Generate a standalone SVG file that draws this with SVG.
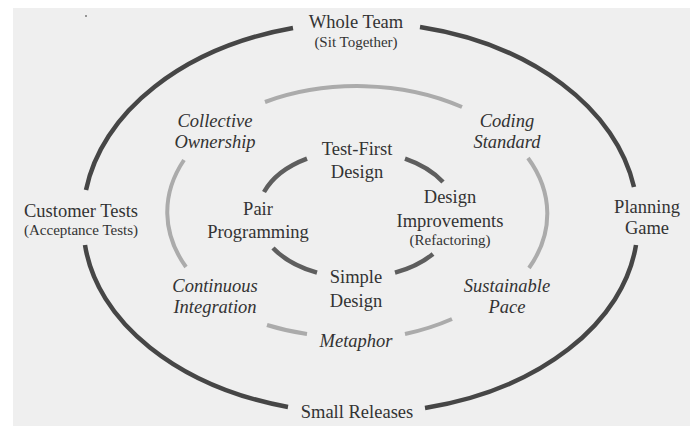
<svg xmlns="http://www.w3.org/2000/svg" width="690" height="426" viewBox="0 0 690 426">
  <style>
    .t { font-family: "Liberation Serif", "Times New Roman", serif; font-size: 18.5px; fill: #333; text-anchor: middle; }
    .it { font-style: italic; }
    .sm { font-size: 15px; }
    .ring { fill: none; stroke-linecap: butt; }
    .outer { stroke: #464646; stroke-width: 4.5; }
    .middle { stroke: #ababab; stroke-width: 4; }
    .inner { stroke: #5e5e5e; stroke-width: 4.5; }
  </style>

  <!-- paper -->
  <rect x="0" y="0" width="690" height="426" fill="#ffffff"/>
  <rect x="13" y="8" width="677" height="418" fill="#efefef"/>
  <circle cx="86" cy="16" r="1" fill="#777"/>

  <!-- ring segments between practices -->
  <g id="connectors" class="ring">
    <!-- outer ring -->
    <path class="outer" d="M86,190 A277,196 0 0 1 293,28"/>
    <path class="outer" d="M420,27 A277,196 0 0 1 634,187"/>
    <path class="outer" d="M636,245 A277,189 0 0 1 425,408"/>
    <path class="outer" d="M288,407 A277,189 0 0 1 85,245"/>
    <!-- middle ring -->
    <path class="middle" d="M265,102 A190.5,127 0 0 1 462,107"/>
    <path class="middle" d="M528,158 A190.5,127 0 0 1 529,268"/>
    <path class="middle" d="M452,319 A190.5,127 0 0 1 405,334"/>
    <path class="middle" d="M307,334 A190.5,127 0 0 1 267,325"/>
    <path class="middle" d="M186,267 A190.5,127 0 0 1 184,160"/>
    <!-- inner ring -->
    <path class="inner" d="M264,192 A98,64 0 0 1 307,158.6"/>
    <path class="inner" d="M405,158.6 A98,64 0 0 1 443,182"/>
    <path class="inner" d="M433,254 A98,64 0 0 1 395,272.7"/>
    <path class="inner" d="M317,272.7 A98,64 0 0 1 273,248"/>
  </g>

  <!-- outer ring practices -->
  <g id="whole-team">
    <text class="t" x="356" y="28">Whole Team</text>
    <text class="t sm" x="356" y="47">(Sit Together)</text>
  </g>
  <g id="customer-tests">
    <text class="t" x="81" y="217">Customer Tests</text>
    <text class="t sm" x="81" y="235">(Acceptance Tests)</text>
  </g>
  <g id="planning-game">
    <text class="t" x="647" y="213">Planning</text>
    <text class="t" x="647" y="234">Game</text>
  </g>
  <g id="small-releases">
    <text class="t" x="357" y="418">Small Releases</text>
  </g>

  <!-- middle ring practices -->
  <g id="collective-ownership">
    <text class="t it" x="215" y="127">Collective</text>
    <text class="t it" x="215" y="148">Ownership</text>
  </g>
  <g id="coding-standard">
    <text class="t it" x="507" y="127">Coding</text>
    <text class="t it" x="507" y="148">Standard</text>
  </g>
  <g id="continuous-integration">
    <text class="t it" x="215" y="292">Continuous</text>
    <text class="t it" x="215" y="313">Integration</text>
  </g>
  <g id="sustainable-pace">
    <text class="t it" x="507" y="292">Sustainable</text>
    <text class="t it" x="507" y="313">Pace</text>
  </g>
  <g id="metaphor">
    <text class="t it" x="356" y="347">Metaphor</text>
  </g>

  <!-- inner ring practices -->
  <g id="test-first-design">
    <text class="t" x="357" y="155">Test-First</text>
    <text class="t" x="357" y="178">Design</text>
  </g>
  <g id="pair-programming">
    <text class="t" x="258" y="215">Pair</text>
    <text class="t" x="258" y="238">Programming</text>
  </g>
  <g id="design-improvements">
    <text class="t" x="450" y="203">Design</text>
    <text class="t" x="450" y="227">Improvements</text>
    <text class="t sm" x="450" y="245">(Refactoring)</text>
  </g>
  <g id="simple-design">
    <text class="t" x="356" y="283">Simple</text>
    <text class="t" x="356" y="307">Design</text>
  </g>
</svg>
